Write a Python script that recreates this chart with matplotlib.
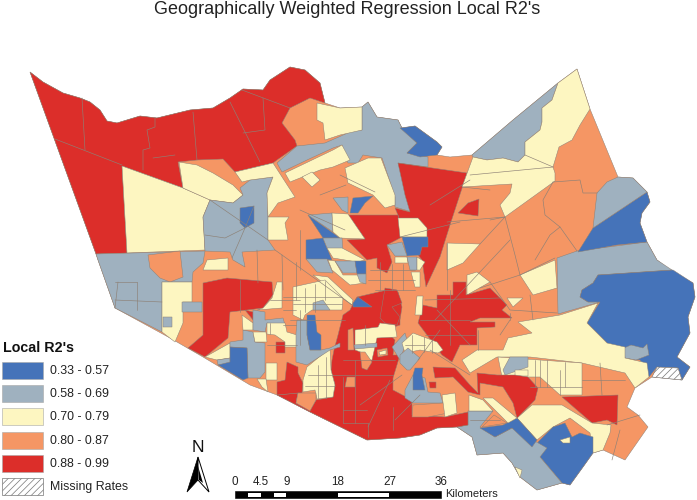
import matplotlib
matplotlib.use("Agg")
import matplotlib.pyplot as plt
from matplotlib.patches import Polygon, Rectangle

plt.rcParams['font.family'] = ['Liberation Sans', 'DejaVu Sans']
plt.rcParams['hatch.linewidth'] = 0.5

title = "Geographically Weighted Regression Local R2's"
legend_title = "Local R2's"
class_labels = ["0.33 - 0.57", "0.58 - 0.69", "0.70 - 0.79", "0.80 - 0.87", "0.88 - 0.99"]
missing_label = "Missing Rates"
class_colors = ["#4573B9", "#9FB1BF", "#FDF6C1", "#F59664", "#DC2E2A"]
edge = "#8d8176"
scale_ticks = [0, 4.5, 9, 18, 27, 36]
scale_tick_labels = ["0", "4.5", "9", "18", "27", "36"]

county = [(30,72),(43,82),(63,93),(80,98),(90,102),(100,110),(107,121),(117,123),(140,116),(157,118),(190,110),(213,108),(230,98),(243,89),(263,90),(270,80),(290,67),(305,70),(320,83),(325,103),(340,108),(362,107),(368,102),(377,117),(398,120),(402,128),(415,126),(437,142),(442,147),(437,155),(450,157),(472,155),(513,120),(558,83),(577,69),(590,109),(618,177),(633,178),(647,192),(650,202),(642,213),(640,223),(647,242),(657,260),(670,270),(693,283),(695,297),(688,317),(690,333),(677,357),(690,367),(682,380),(652,377),(635,388),(627,407),(638,415),(648,427),(625,460),(603,450),(593,453),(583,467),(570,485),(562,483),(537,490),(520,477),(512,463),(503,453),(477,455),(472,437),(457,427),(437,428),(420,435),(400,438),(367,440),(310,412),(277,395),(250,385),(203,357),(170,338),(115,308),(98,260),(96,254)]

R, Y, G, B, O = 4, 2, 1, 0, 3
tracts = [
 (R, [(30,72),(43,82),(63,93),(80,98),(90,102),(100,110),(107,121),(117,123),(140,116),(157,118),(190,110),(213,108),(230,98),(243,89),(263,90),(270,80),(290,67),(305,70),(320,83),(325,103),(310,98),(290,108),(282,123),(295,140),(297,146),(277,160),(273,163),(235,172),(223,159),(197,160),(178,162),(183,188),(122,166),(127,253),(96,254)]),
 (Y, [(122,166),(183,188),(210,200),(203,217),(205,250),(127,253)]),
 (Y, [(179,162),(197,165),(213,173),(233,185),(243,195),(233,203),(210,200),(183,188)]),
 (G, [(210,200),(233,203),(243,195),(240,188),(250,180),(273,177),(267,193),(268,217),(268,240),(275,250),(242,252),(245,267),(233,260),(230,252),(205,251),(203,217)]),
 (B, [(240,208),(254,206),(254,223),(245,228),(240,223)]),
 (Y, [(235,172),(273,163),(295,197),(278,203),(268,217),(267,193),(273,177),(250,180),(242,182)]),
 (Y, [(268,217),(289,217),(285,223),(288,240),(268,240)]),
 (G, [(277,163),(297,146),(325,143),(350,132),(362,130),(362,107),(368,102),(377,117),(398,120),(402,128),(417,143),(407,153),(428,157),(428,167),(398,163),(407,190),(412,212),(395,207),(395,197),(382,158),(363,155),(358,163),(348,163),(342,145),(333,148),(307,160),(282,172)]),
 (B, [(400,128),(415,126),(437,142),(442,147),(437,155),(420,157),(407,153),(417,143)]),
 (Y, [(317,103),(340,108),(362,107),(362,130),(340,135),(325,140),(323,123),(317,120)]),
 (Y, [(285,173),(333,150),(342,145),(350,160),(333,167),(320,170),(290,182)]),
 (Y, [(302,177),(312,172),(320,180),(312,187)]),
 (Y, [(345,168),(368,158),(381,158),(395,195),(395,205),(385,208),(373,195),(348,183)]),
 (B, [(350,213),(353,198),(373,196),(365,203),(358,213)]),
 (G, [(333,198),(348,197),(348,213),(342,210)]),
 (R, [(398,163),(467,173),(450,225),(440,257),(426,287),(422,260),(400,232),(398,215),(395,208),(410,212),(405,195)]),
 (R, [(458,213),(468,203),(479,199),(478,216)]),
 (G, [(472,155),(513,120),(558,83),(552,100),(542,108),(542,122),(540,130),(525,142),(525,155),(518,162),(503,158),(487,160),(473,157)]),
 (Y, [(558,83),(577,69),(590,109),(580,125),(572,140),(559,147),(553,167),(555,173),(555,181),(505,217),(500,205),(510,193),(512,184),(462,187),(473,157),(487,160),(503,158),(518,162),(525,155),(525,142),(540,130),(542,122),(542,108),(552,100)]),
 (G, [(557,258),(577,251),(647,242),(657,260),(672,270),(598,275),(593,283),(582,290),(580,297),(588,302),(600,302),(558,314)]),
 (B, [(578,252),(593,228),(647,192),(650,202),(642,213),(640,223),(647,242),(617,245)]),
 (G, [(597,193),(607,182),(618,177),(633,178),(647,192),(593,228)]),
 (B, [(582,290),(593,283),(598,275),(673,270),(693,283),(695,297),(688,317),(690,333),(677,357),(690,367),(682,380),(678,368),(657,367),(649,377),(640,360),(625,358),(607,343),(587,323),(600,302),(588,302),(580,297)]),
 (G, [(625,358),(624,348),(631,345),(643,348),(647,344),(649,355),(636,360)]),
 (Y, [(518,322),(560,315),(598,303),(587,323),(607,343),(625,347),(625,358),(647,363),(649,377),(635,388),(625,373),(582,363),(530,357),(512,357),(497,357),(470,373),(462,360),(477,350),(503,350),(508,338),(532,333)]),
 (Y, [(498,357),(582,363),(582,395),(560,395),(540,377),(502,377)]),
 (G, [(510,357),(528,357),(528,367),(505,375),(503,370)]),
 (Y, [(515,370),(528,370),(528,376),(515,376)]),
 (R, [(562,397),(618,395),(617,425),(607,420),(592,423)]),
 (Y, [(517,418),(532,405),(562,405),(592,423),(611,425),(610,433),(603,450),(593,453),(590,433),(570,418),(553,427),(537,440)]),
 (B, [(538,442),(553,427),(565,423),(572,437),(580,433),(593,437),(593,453),(583,467),(570,485),(562,483),(540,457)]),
 (Y, [(560,440),(570,437),(570,443),(563,443)]),
 (G, [(457,427),(468,425),(468,411),(493,411),(480,427),(495,437),(512,428),(547,448),(540,457),(562,483),(537,490),(520,477),(512,463),(503,453),(477,455),(472,437)]),
 (O, [(494,415),(507,423),(482,427)]),
 (B, [(480,428),(503,425),(517,418),(537,440),(532,447),(512,428),(495,437)]),
 (Y, [(515,467),(522,470),(520,478)]),
 (Y, [(520,275),(555,260),(557,288),(533,295)]),
 (Y, [(467,275),(477,272),(490,282),(467,295)]),
 (Y, [(507,298),(523,298),(513,307)]),
 (Y, [(447,243),(480,244),(463,263),(447,270)]),
 (R, [(277,395),(298,393),(296,403),(310,410),(316,400),(333,397),(335,385),(331,370),(332,360),(334,350),(338,335),(343,315),(350,310),(355,300),(357,297),(387,290),(398,292),(402,307),(400,320),(400,325),(385,330),(395,340),(393,355),(400,355),(393,378),(393,390),(412,400),(412,415),(445,417),(468,412),(468,425),(457,427),(437,428),(420,435),(400,438),(367,440),(310,412)]),
 (R, [(453,282),(466,282),(466,295),(490,288),(507,305),(502,310),(512,318),(480,318),(470,322),(495,322),(495,327),(477,328),(477,345),(460,345),(452,362),(442,355),(418,323),(423,305),(437,308),(437,295),(453,295)]),
 (R, [(433,367),(455,368),(470,385),(478,393),(477,373),(497,375),(515,375),(528,377),(538,388),(535,400),(517,418),(513,403),(503,387),(480,383),(480,395),(468,392),(453,377),(435,378)]),
 (R, [(429,382),(436,382),(436,388),(430,388)]),
 (R, [(385,288),(397,290),(402,303),(392,307),(400,317),(397,325),(385,323),(380,318)]),
 (R, [(348,215),(398,215),(400,227),(402,237),(387,245),(392,262),(387,273),(377,268),(377,258),(367,260),(347,240),(365,239)]),
 (Y, [(398,218),(418,218),(427,228),(427,237),(400,237)]),
 (B, [(402,237),(428,237),(428,247),(422,247),(420,255),(407,256)]),
 (G, [(387,245),(402,242),(407,256),(395,256)]),
 (Y, [(395,257),(407,257),(408,263),(395,263)]),
 (G, [(407,257),(417,257),(417,270),(410,270)]),
 (Y, [(417,257),(425,262),(420,270),(417,270)]),
 (Y, [(411,272),(420,272),(420,287),(415,287)]),
 (Y, [(417,296),(423,296),(422,315),(415,315)]),
 (B, [(308,215),(340,238),(323,238)]),
 (G, [(308,215),(332,213),(333,232)]),
 (Y, [(332,213),(348,214),(365,239),(340,238),(333,232)]),
 (B, [(306,240),(323,238),(332,260),(306,259)]),
 (G, [(323,238),(342,238),(343,250),(357,262),(327,248)]),
 (Y, [(327,248),(342,248),(365,260),(357,262),(333,258)]),
 (G, [(306,259),(327,259),(333,273),(317,272)]),
 (Y, [(328,260),(335,261),(343,275),(358,275),(365,283),(350,285),(332,270)]),
 (G, [(335,261),(355,261),(357,273),(343,273)]),
 (B, [(355,261),(366,261),(366,274),(357,274)]),
 (G, [(357,274),(366,274),(366,284),(360,282)]),
 (Y, [(313,275),(328,277),(353,300),(352,305)]),
 (Y, [(293,287),(325,280),(343,298),(342,310),(312,310),(305,315),(303,320),(293,315)]),
 (G, [(313,303),(323,300),(330,310),(313,310)]),
 (B, [(353,303),(358,297),(372,307),(353,307)]),
 (G, [(96,254),(205,251),(203,263),(193,272),(192,282),(162,282),(162,332),(115,308),(98,260)]),
 (O, [(148,255),(180,251),(183,277),(170,282),(160,278),(150,268)]),
 (Y, [(207,260),(228,258),(228,270),(203,270)]),
 (Y, [(162,282),(192,282),(192,302),(183,302),(183,323),(175,342),(162,332)]),
 (G, [(182,302),(202,302),(202,312),(182,312)]),
 (G, [(163,317),(172,317),(172,327),(163,327)]),
 (R, [(203,283),(227,278),(272,282),(273,295),(263,308),(247,310),(230,312),(228,338),(205,357),(188,348),(203,335),(203,312)]),
 (Y, [(205,357),(230,343),(230,358),(217,360)]),
 (G, [(217,360),(230,358),(230,363),(218,365)]),
 (G, [(243,330),(253,332),(255,342),(265,343),(265,372),(260,378),(248,378),(247,348),(230,347),(230,342),(243,340)]),
 (B, [(218,365),(230,362),(230,347),(247,348),(248,378),(243,380)]),
 (R, [(245,310),(253,312),(253,320)]),
 (Y, [(242,315),(253,323),(253,330),(243,330)]),
 (G, [(253,310),(265,312),(265,320),(283,318),(285,325),(267,323),(265,332),(253,330)]),
 (Y, [(253,332),(266,332),(267,342),(255,342)]),
 (R, [(276,342),(285,342),(285,353),(276,353)]),
 (Y, [(267,323),(285,323),(287,332),(297,335),(297,347),(285,347),(285,342),(275,335),(267,334)]),
 (Y, [(266,363),(277,363),(277,380),(266,380)]),
 (Y, [(257,379),(266,379),(268,392),(262,387)]),
 (R, [(287,362),(298,367),(298,373),(303,383),(302,393),(298,393),(277,395),(277,382),(285,380)]),
 (Y, [(330,348),(331,370),(335,385),(333,397),(317,399),(315,390),(303,392),(303,380),(307,367)]),
 (O, [(298,393),(316,393),(316,400),(310,411),(296,403)]),
 (G, [(297,320),(307,320),(307,335),(310,350),(321,350),(330,348),(340,343),(340,347),(330,350),(307,365),(296,362),(296,333)]),
 (B, [(307,315),(315,315),(317,332),(321,335),(321,350),(310,350),(307,335)]),
 (Y, [(277,282),(282,282),(282,308),(257,310),(263,308),(272,298)]),
 (Y, [(355,330),(378,327),(380,323),(395,325),(397,337),(377,338),(372,360),(365,360),(363,353),(355,350)]),
 (G, [(354,345),(377,343),(377,347),(355,349)]),
 (O, [(360,352),(365,352),(372,362),(367,370),(362,368)]),
 (O, [(377,350),(387,348),(388,355),(378,357)]),
 (Y, [(379,352),(386,350),(386,354),(380,355)]),
 (O, [(347,377),(355,377),(355,387),(345,387)]),
 (O, [(348,330),(353,328),(354,350),(348,350)]),
 (G, [(392,347),(405,333),(407,340),(400,360)]),
 (Y, [(402,343),(413,333),(437,342),(443,350),(438,353),(420,350),(405,353)]),
 (G, [(400,355),(408,348),(420,358),(410,370),(407,370),(400,363)]),
 (G, [(405,390),(413,375),(425,378),(428,392),(440,393),(443,403),(413,403),(405,398)]),
 (B, [(413,375),(415,368),(423,368),(422,375),(425,390),(413,390)]),
 (O, [(413,405),(443,403),(448,413),(428,417),(412,417)]),
 (Y, [(442,395),(455,393),(457,413),(445,417)]),
 (Y, [(469,395),(483,400),(493,411),(469,411)]),
 (Y, [(483,398),(493,398),(517,418),(508,423)]),
]
missing_area = [(652,377),(657,367),(678,368),(682,380)]

tract_lines = [
 [(55,139),(122,165)], [(82,98),(85,150)], [(143,170),(143,150),(150,148),(147,130),(155,127),(155,118)],
 [(193,112),(197,160)], [(153,158),(175,155)], [(230,102),(260,162)], [(242,90),(290,108)],
 [(263,98),(265,130),(243,133)], [(210,200),(268,240)], [(254,206),(245,228),(232,258)],
 [(245,228),(225,238),(205,235)], [(275,250),(352,305)], [(257,250),(258,283)], [(282,255),(283,290)],
 [(296,262),(296,300)], [(300,310),(300,345)], [(290,320),(345,320)],
 [(343,360),(395,360)], [(333,375),(393,375)], [(343,410),(367,410)], [(343,423),(368,423)],
 [(343,377),(343,423)], [(355,360),(355,423)], [(368,423),(368,437)], [(368,427),(390,380)],
 [(393,407),(393,430)], [(395,420),(420,395)], [(420,320),(470,320)], [(437,310),(470,345)],
 [(425,335),(475,335)], [(450,290),(450,345)],
 [(402,375),(360,405)], [(435,320),(510,240)], [(490,220),(505,217),(515,255),(520,275)], [(520,275),(555,258)],
 [(553,182),(580,180),(583,193),(597,193)], [(553,182),(543,200),(545,215),(560,227),(577,251)],
 [(560,227),(550,235),(535,260)], [(505,217),(480,244)], [(447,222),(505,217)],
 [(462,187),(490,190)], [(470,175),(553,167)], [(525,155),(553,167)],
 [(480,288),(520,275)], [(490,282),(510,310),(557,313)], [(530,295),(533,320)], [(510,313),(510,320)],
 [(400,237),(460,222)], [(430,205),(470,180)], [(447,243),(447,290)], [(425,300),(500,298)],
 [(320,195),(346,185)], [(340,175),(375,192)], [(300,210),(345,230)], [(300,230),(300,270)],
 [(560,370),(560,395)], [(582,380),(625,380)], [(600,363),(602,395)], [(607,425),(640,415)], [(620,430),(612,460)],
 [(535,360),(535,387)], [(540,360),(540,387)], [(547,360),(547,387)], [(565,362),(565,387)], [(530,387),(582,387)],
 [(500,420),(470,420)],
 [(118,282),(115,308)], [(115,282),(137,282)], [(137,282),(137,310)], [(115,300),(162,302)],
 [(365,325),(365,345)], [(270,300),(300,300)], [(240,280),(240,312)],
 [(430,350),(470,375)], [(440,330),(418,360)], [(500,335),(510,320)], [(478,350),(478,330)],
 [(370,270),(415,270)], [(368,280),(415,280)], [(375,290),(415,290)], [(380,262),(380,290)], [(392,264),(392,290)], [(403,264),(403,290)],
 [(283,297),(296,297)], [(283,310),(296,310)], [(283,325),(296,325)], [(293,297),(342,297)], [(293,304),(342,304)],
 [(305,288),(305,312)], [(315,284),(315,312)], [(325,281),(325,300)], [(267,345),(297,345)], [(270,323),(270,334)],
 [(308,375),(333,375)], [(305,386),(335,386)], [(318,365),(318,398)], [(326,357),(326,398)],
 [(405,345),(425,345)], [(412,335),(412,353)], [(424,337),(424,352)], [(432,340),(432,353)],
]

fig = plt.figure(figsize=(6.97, 5.0), dpi=100)
ax = fig.add_axes([0, 0, 1, 1])
ax.set_xlim(0, 697)
ax.set_ylim(500, 0)
ax.axis('off')

ax.add_patch(Polygon(county, closed=True, facecolor=class_colors[3], edgecolor=edge, linewidth=0.35))
for cls, pts in tracts:
    ax.add_patch(Polygon(pts, closed=True, facecolor=class_colors[cls], edgecolor=edge, linewidth=0.35))
ax.add_patch(Polygon(missing_area, closed=True, facecolor='white', edgecolor='#777777', hatch='/////', linewidth=0.4))
for line in tract_lines:
    ax.plot([p[0] for p in line], [p[1] for p in line], color=edge, lw=0.45, solid_capstyle='round')

ax.text(347, 9, title, ha='center', va='center', fontsize=13, color='#222222')

ax.text(3, 348, legend_title, ha='left', va='center', fontsize=10.3, fontweight='bold', color='#111111')
swatch_tops = [362, 385, 408, 432, 455]
for top, color, label in zip(swatch_tops, class_colors, class_labels):
    ax.add_patch(Rectangle((2, top), 41, 17, facecolor=color, edgecolor='#a8a8a8', linewidth=0.4))
    ax.text(50, top + 9, label, ha='left', va='center', fontsize=8.9, color='#222222')
ax.add_patch(Rectangle((2, 478), 41, 17, facecolor='white', edgecolor='#777777', hatch='/////', linewidth=0.5))
ax.text(50, 487, missing_label, ha='left', va='center', fontsize=8.9, color='#222222')

ax.text(198, 447, "N", ha='center', va='center', fontsize=12.5, color='#111111')
ax.add_patch(Polygon([(198,457),(187,492),(198,480)], closed=True, facecolor='black', edgecolor='black', linewidth=0.5))
ax.add_patch(Polygon([(198,457),(209,492),(198,480)], closed=True, facecolor='white', edgecolor='black', linewidth=0.7))
ax.add_patch(Polygon([(198,466),(199,480),(203,483)], closed=True, facecolor='black', edgecolor='none'))

x0, px_per_km = 235, 5.72
ax.add_patch(Rectangle((x0, 491), 36 * px_per_km, 7, facecolor='black', edgecolor='black', linewidth=0.4))
for a, b in [(scale_ticks[0] + 2.25, scale_ticks[1] + 0), (6.75, scale_ticks[2]), (scale_ticks[3], scale_ticks[4])]:
    ax.add_patch(Rectangle((x0 + a * px_per_km, 492.7), (b - a) * px_per_km, 3.8, facecolor='white', edgecolor='none'))
for value, label in zip(scale_ticks, scale_tick_labels):
    ax.text(x0 + value * px_per_km, 482, label, ha='center', va='center', fontsize=8.4, color='#222222')
ax.text(445, 494, "Kilometers", ha='left', va='center', fontsize=8, color='#222222')

fig.savefig("out.png", dpi=100, facecolor='white')
